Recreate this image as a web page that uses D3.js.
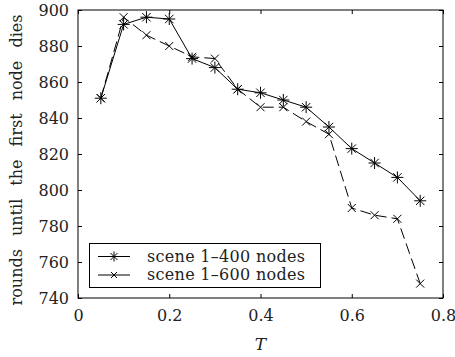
<!DOCTYPE html>
<html>
<head>
<meta charset="utf-8">
<script src="https://cdn.jsdelivr.net/npm/d3@7"></script>
<style>
  body { margin: 0; background: #fff; }
  svg text { font-family: "DejaVu Serif", serif; fill: #222; }
</style>
</head>
<body>
<div id="chart"></div>
<script>
// data
var T = [0.05, 0.1, 0.15, 0.2, 0.25, 0.3, 0.35, 0.4, 0.45, 0.5, 0.55, 0.6, 0.65, 0.7, 0.75];
var scene400 = [851, 892, 896, 895, 873, 868, 856, 854, 850, 846, 835, 823, 815, 807, 794];
var scene600 = [851, 896, 886, 880, 874, 873, 856, 846, 846, 838, 831, 790, 786, 784, 748];
var xTicks = [0, 0.2, 0.4, 0.6, 0.8];
var yTicks = [740, 760, 780, 800, 820, 840, 860, 880, 900];
var seriesNames = ["scene 1\u2013400 nodes", "scene 1\u2013600 nodes"];

var width = 455, height = 357;
var margin = {left: 78, right: 12, top: 10, bottom: 59};
var fs = 16;

var svg = d3.select("#chart").append("svg")
    .attr("width", width)
    .attr("height", height);

var x = d3.scaleLinear().domain([0, 0.8]).range([margin.left, width - margin.right]);
var y = d3.scaleLinear().domain([740, 900]).range([height - margin.bottom, margin.top]);

var g = svg.append("g");

// frame
g.append("rect")
    .attr("x", x(0)).attr("y", y(900))
    .attr("width", x(0.8) - x(0)).attr("height", y(740) - y(900))
    .attr("fill", "none").attr("stroke", "#000").attr("stroke-width", 1);

// axes, ticks pointing inward
var tick = 4;
g.append("g")
    .attr("transform", "translate(0," + y(740) + ")")
    .call(d3.axisBottom(x).tickValues(xTicks).tickSizeInner(-tick).tickSizeOuter(0).tickPadding(12)
        .tickFormat(function(d) { return d === 0 ? "0" : d3.format(".1f")(d); }))
    .call(function(a) { a.select(".domain").remove(); });
g.append("g")
    .attr("transform", "translate(0," + y(900) + ")")
    .call(d3.axisTop(x).tickValues(xTicks).tickSizeInner(-tick).tickSizeOuter(0).tickFormat(""))
    .call(function(a) { a.select(".domain").remove(); });
g.append("g")
    .attr("transform", "translate(" + x(0) + ",0)")
    .call(d3.axisLeft(y).tickValues(yTicks).tickSizeInner(-tick).tickSizeOuter(0).tickPadding(9))
    .call(function(a) { a.select(".domain").remove(); });
g.append("g")
    .attr("transform", "translate(" + x(0.8) + ",0)")
    .call(d3.axisRight(y).tickValues(yTicks).tickSizeInner(-tick).tickSizeOuter(0).tickFormat(""))
    .call(function(a) { a.select(".domain").remove(); });

svg.selectAll(".tick text")
    .attr("font-size", fs)
    .attr("fill", "#222");
svg.selectAll(".tick line").attr("stroke", "#000");

// axis labels
svg.append("text")
    .attr("x", x(0.4)).attr("y", 350)
    .attr("text-anchor", "middle")
    .attr("font-size", 17)
    .attr("font-style", "italic")
    .text("T");

svg.append("text")
    .attr("transform", "translate(22,160) rotate(-90)")
    .attr("text-anchor", "middle")
    .attr("font-size", fs)
    .attr("word-spacing", 8)
    .text("rounds until the first node dies");

// markers
function star(sel, s) {
    sel.append("path")
        .attr("d", "M" + (-s) + ",0H" + s + "M0," + (-s) + "V" + s +
            "M" + (-s * 0.7) + "," + (-s * 0.7) + "L" + (s * 0.7) + "," + (s * 0.7) +
            "M" + (-s * 0.7) + "," + (s * 0.7) + "L" + (s * 0.7) + "," + (-s * 0.7))
        .attr("stroke", "#000").attr("stroke-width", 1).attr("fill", "none");
}
function cross(sel, s) {
    sel.append("path")
        .attr("d", "M" + (-s) + "," + (-s) + "L" + s + "," + s + "M" + (-s) + "," + s + "L" + s + "," + (-s))
        .attr("stroke", "#000").attr("stroke-width", 1).attr("fill", "none");
}

var line = d3.line()
    .x(function(d) { return x(d[0]); })
    .y(function(d) { return y(d[1]); });

var d600 = T.map(function(t, i) { return [t, scene600[i]]; });
var d400 = T.map(function(t, i) { return [t, scene400[i]]; });

g.append("path")
    .datum(d600)
    .attr("d", line)
    .attr("fill", "none").attr("stroke", "#000").attr("stroke-width", 1)
    .attr("stroke-dasharray", "11,5");

g.append("path")
    .datum(d400)
    .attr("d", line)
    .attr("fill", "none").attr("stroke", "#000").attr("stroke-width", 1);

g.selectAll(".m600").data(d600).enter().append("g")
    .attr("transform", function(d) { return "translate(" + x(d[0]) + "," + y(d[1]) + ")"; })
    .each(function() { cross(d3.select(this), 4); });

g.selectAll(".m400").data(d400).enter().append("g")
    .attr("transform", function(d) { return "translate(" + x(d[0]) + "," + y(d[1]) + ")"; })
    .each(function() { star(d3.select(this), 6); });

// legend
var lg = svg.append("g");
lg.append("rect")
    .attr("x", 89.5).attr("y", 243.5).attr("width", 231).attr("height", 44)
    .attr("fill", "#fff").attr("stroke", "#000").attr("stroke-width", 1);

seriesNames.forEach(function(name, i) {
    var ly = 256.5 + i * 18.5;
    lg.append("line")
        .attr("x1", 98).attr("x2", 130).attr("y1", ly).attr("y2", ly)
        .attr("stroke", "#000").attr("stroke-width", 1);
    var m = lg.append("g").attr("transform", "translate(114," + ly + ")");
    if (i === 0) star(m, 5); else cross(m, 3);
    lg.append("text")
        .attr("x", 147).attr("y", ly)
        .attr("dy", "0.33em")
        .attr("font-size", fs)
        .attr("textLength", 158)
        .text(name);
});
</script>
</body>
</html>
